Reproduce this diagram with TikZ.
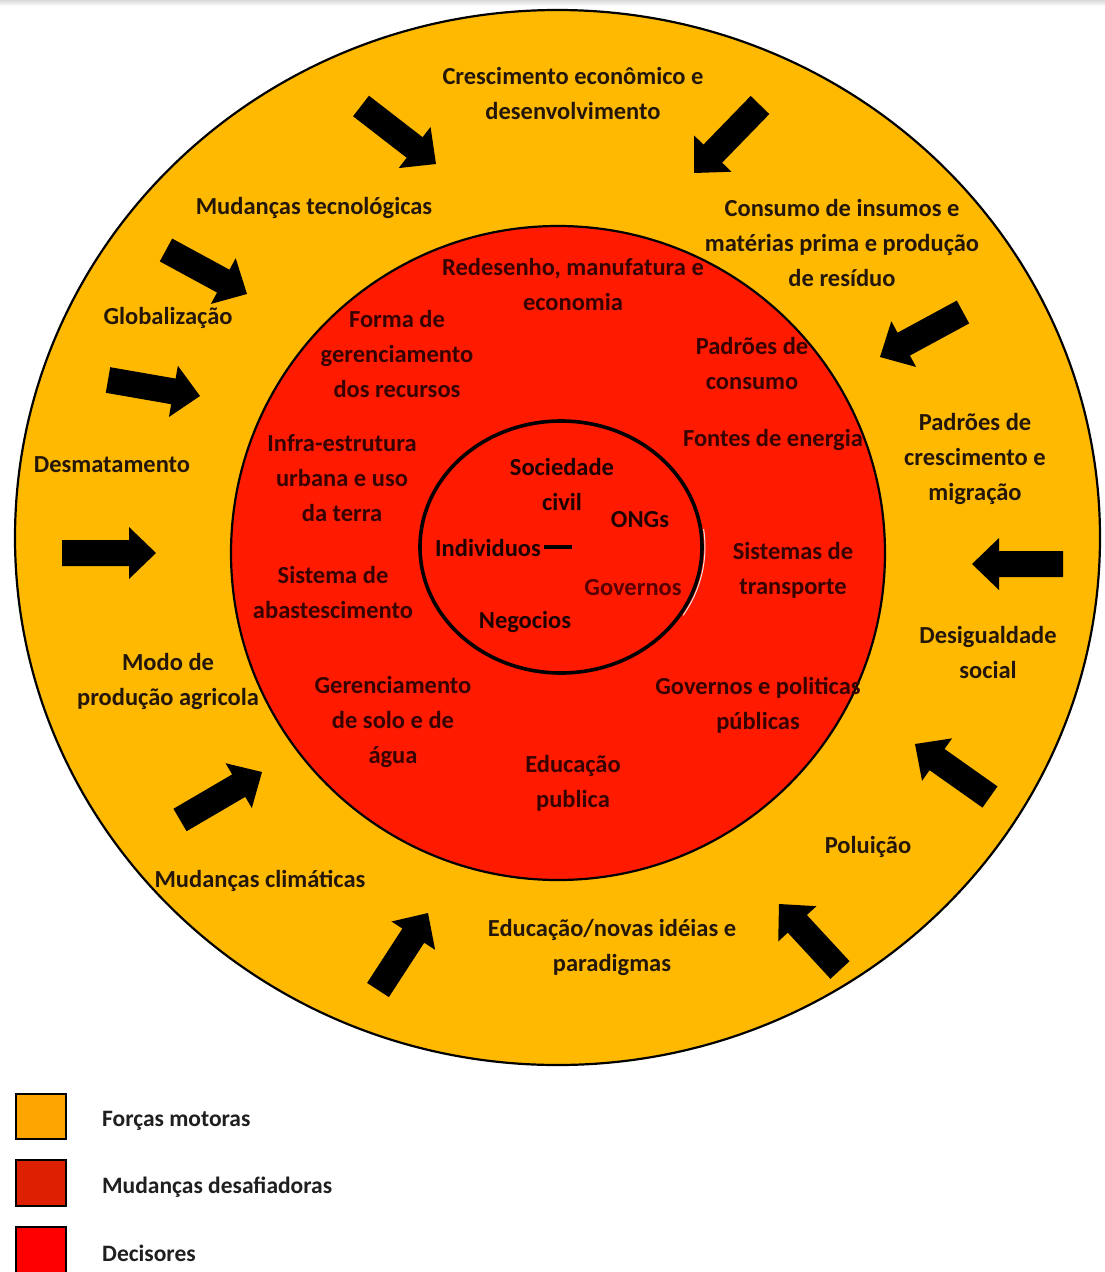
\documentclass[tikz,border=0pt]{standalone}
\usepackage{fontspec}
\setmainfont{Carlito}
\usetikzlibrary{calc}

\definecolor{ringorange}{HTML}{FFB900}
\definecolor{ringred}{HTML}{FF1A00}
\definecolor{keyorange}{HTML}{FFA500}
\definecolor{keydark}{HTML}{DD2000}
\definecolor{keyred}{HTML}{FF0000}
\definecolor{outertext}{HTML}{24170A}
\definecolor{innertext}{HTML}{360300}
\definecolor{coretext}{HTML}{1E0200}
\definecolor{govtext}{HTML}{560000}

\tikzset{
  outerlbl/.style={text=outertext, align=center, inner sep=0pt,
    font=\fontsize{24.5}{35}\selectfont\bfseries},
  innerlbl/.style={text=innertext, align=center, inner sep=0pt,
    font=\fontsize{24.5}{35}\selectfont\bfseries},
  corelbl/.style={innerlbl, text=coretext},
  keybox/.style={draw=black, line width=1.4pt},
  keylbl/.style={anchor=west, text=black!88, inner sep=0pt,
    font=\fontsize{23.5}{28}\selectfont\bfseries},
  arrowfill/.style={fill=black},
  ringline/.style={draw=black, line width=2.2pt},
}

% thick block arrow: #1 name, #2 tail centre, #3 tip
\newcommand\blockarrow[3]{%
  \coordinate (#1t) at (#2);
  \coordinate (#1h) at (#3);
  \coordinate (#1b) at ($(#1h)!27pt!(#1t)$);
  \fill[arrowfill] ($(#1t)!13pt!90:(#1h)$) -- ($(#1b)!13pt!90:(#1h)$)
    -- ($(#1b)!26pt!90:(#1h)$) -- (#1h) -- ($(#1b)!26pt!-90:(#1h)$)
    -- ($(#1b)!13pt!-90:(#1h)$) -- ($(#1t)!13pt!-90:(#1h)$) -- cycle;}

\begin{document}
\begin{tikzpicture}[x=1pt,y=-1pt]
\useasboundingbox (0,0) rectangle (1105,1272);
\fill[white] (0,0) rectangle (1105,1272);
\shade[top color=gray!30, bottom color=white] (0,0) rectangle (1105,6);

% rings
\filldraw[fill=ringorange, ringline] (557.5,537.5) ellipse [x radius=542.5pt, y radius=527.5pt];
\filldraw[fill=ringred, ringline] (558,553) circle [radius=327pt];
\filldraw[fill=ringred, draw=black, line width=3.6pt] (561,547) ellipse [x radius=141pt, y radius=126pt];
\draw[white!80!gray, line width=1pt] (561,547) ++(-32:144pt and 129pt)
  arc[start angle=-32, end angle=8, x radius=144pt, y radius=129pt];

% driving forces
\node[outerlbl] (crescimento) at (573,93) {Crescimento econômico e\\desenvolvimento};
\node[outerlbl] (tecno) at (314,208) {Mudanças tecnológicas};
\node[outerlbl] (consumo) at (842,243) {Consumo de insumos e\\matérias prima e produção\\de resíduo};
\node[outerlbl] (global) at (168,318) {Globalização};
\node[outerlbl] (padcresc) at (975,459) {Padrões de\\crescimento e\\migração};
\node[outerlbl] (desmat) at (112,465) {Desmatamento};
\node[outerlbl] (desig) at (988,652) {Desigualdade\\social};
\node[outerlbl] (modo) at (168,681) {Modo de\\produção agricola};
\node[outerlbl] (polu) at (868,847) {Poluição};
\node[outerlbl] (clima) at (260,881) {Mudanças climáticas};
\node[outerlbl] (educnovas) at (612,947) {Educação/novas idéias e\\paradigmas};

% challenging changes
\node[innerlbl] (redesenho) at (573,284) {Redesenho, manufatura e\\economia};
\node[innerlbl] (forma) at (397,354) {Forma de\\gerenciamento\\dos recursos};
\node[innerlbl] (padcons) at (752,363) {Padrões de\\consumo};
\node[innerlbl] (infra) at (342,478) {Infra-estrutura\\urbana e uso\\da terra};
\node[innerlbl] (fontes) at (773,440) {Fontes de energia};
\node[innerlbl] (transp) at (793,570) {Sistemas de\\transporte};
\node[innerlbl] (abast) at (333,592) {Sistema de\\abastescimento};
\node[innerlbl] (gersolo) at (393,722) {Gerenciamento\\de solo e de\\água};
\node[innerlbl] (govpol) at (758,705) {Governos e politicas\\públicas};
\node[innerlbl] (educpub) at (573,783) {Educação\\publica};

% decision makers
\node[corelbl] (soc) at (562,484) {Sociedade\\civil};
\node[corelbl] (ongs) at (640,520) {ONGs};
\node[corelbl] (indiv) at (488,548) {Individuos};
\node[innerlbl, text=govtext] (gov) at (633,588) {Governos};
\node[corelbl] (neg) at (525,622) {Negocios};
\coordinate (indivend) at (572,547);
\draw[black, line width=3.4pt] ([xshift=3pt]indiv.east |- indivend) -- (indivend);

% block arrows pointing inwards
\blockarrow{a1}{361,106}{436,164}
\blockarrow{a2}{760,105}{694,173}
\blockarrow{a3}{166,250}{247,294}
\blockarrow{a4}{108,380}{200,396}
\blockarrow{a5}{62,553}{156,553}
\blockarrow{a6}{963,312}{880,357}
\blockarrow{a7}{1063,564}{972,564}
\blockarrow{a8}{990,797}{915,744}
\blockarrow{a9}{840,970}{779,904}
\blockarrow{a10}{378,990}{428,913}
\blockarrow{a11}{180,820}{262,772}

% legend
\filldraw[fill=keyorange, keybox] (16,1094) rectangle (66,1139);
\filldraw[fill=keydark, keybox] (16,1160) rectangle (66,1206);
\filldraw[fill=keyred, keybox] (16,1227) rectangle (66,1276);
\node[keylbl] (k1) at (102,1121) {Forças motoras};
\node[keylbl] (k2) at (102,1187) {Mudanças desafiadoras};
\node[keylbl] (k3) at (102,1253) {Decisores};
\end{tikzpicture}
\end{document}
